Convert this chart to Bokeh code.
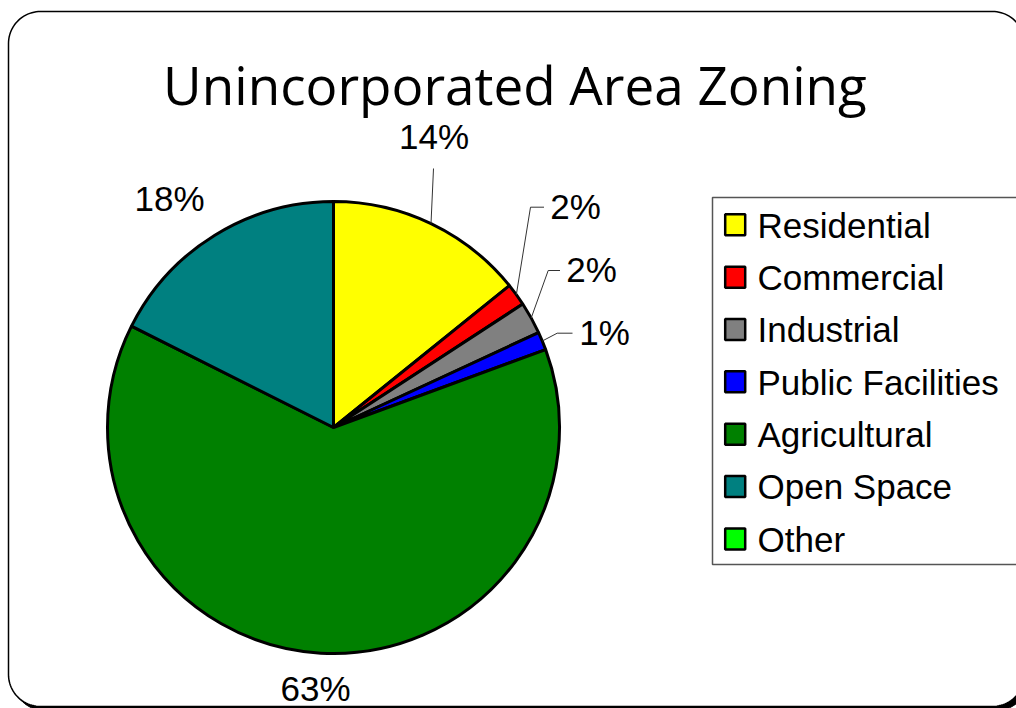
import numpy as np
from bokeh.plotting import figure
from bokeh.models import Range1d, ColumnDataSource
from bokeh.core.properties import value
from bokeh.embed import file_html
from bokeh.resources import INLINE

# ---------------- data ----------------
TITLE = "Unincorporated Area Zoning"
CATEGORIES = ["Residential", "Commercial", "Industrial", "Public Facilities",
              "Agricultural", "Open Space", "Other"]
SHARES = [14.2, 1.6, 2.3, 1.3, 63.0, 17.6, 0.0]
PCT_LABELS = ["14%", "2%", "2%", "1%", "63%", "18%", ""]
COLORS = ["#FFFF00", "#FF0000", "#808080", "#0000FF", "#008000", "#008080", "#00FF00"]

# ---------------- layout (page pixel coordinates) ----------------
W, H = 1016, 708
OFF_X, OFF_Y = 0, 0


def X(px):
    return px - OFF_X


def Y(py):
    return OFF_Y + H - py


CX, CY, R = 333, 427, 226
# label centre x / vertical middle y, per category index
LABEL_POS = {0: (433.5, 136.3), 1: (575, 206), 2: (591, 269.2), 3: (604, 331.5),
             4: (315, 688.3), 5: (169, 198.3)}
# leader polylines (after the rim point)
LEADERS = {0: [(433, 168)],
           1: [(530, 206.7), (543.5, 206.7)],
           2: [(547.7, 270), (559.5, 270)],
           3: [(556.7, 332.7), (572, 332.7)]}

FONT = "Liberation Sans"

p = figure(width=W, height=H, x_range=Range1d(0, W), y_range=Range1d(0, H),
           output_backend="svg", toolbar_location=None, min_border=0)
p.axis.visible = False
p.grid.visible = False
p.outline_line_color = None
p.background_fill_color = "white"
p.border_fill_color = "white"


def rounded_rect(x0, y0, x1, y1, r, n=24):
    xs, ys = [], []
    corners = [(x1 - r, y0 + r, -90, 0), (x1 - r, y1 - r, 0, 90),
               (x0 + r, y1 - r, 90, 180), (x0 + r, y0 + r, 180, 270)]
    for cx, cy, a0, a1 in corners:
        for a in np.linspace(np.radians(a0), np.radians(a1), n):
            xs.append(X(cx + r * np.cos(a)))
            ys.append(Y(cy + r * np.sin(a)))
    return xs, ys


# frame with shadow
sx, sy = rounded_rect(12, 15, 1028, 710, 32)
p.patch(sx, sy, fill_color="black", line_color="black")
fx, fy = rounded_rect(8, 11, 1024, 706, 32)
p.patch(fx, fy, fill_color="white", line_color="black", line_width=1.5)

# pie
shares = np.array(SHARES, dtype=float)
frac = shares / shares.sum()
cum = np.concatenate([[0.0], np.cumsum(frac)])
start = np.pi / 2 - 2 * np.pi * cum[:-1]
end = np.pi / 2 - 2 * np.pi * cum[1:]
mask = shares > 0
src = ColumnDataSource(dict(
    start=start[mask], end=end[mask],
    color=[c for c, m in zip(COLORS, mask) if m]))
p.wedge(x=X(CX), y=Y(CY), radius=R, start_angle="start", end_angle="end",
        direction="clock", fill_color="color", line_color="black",
        line_width=3, source=src)

# leaders
mid = np.pi / 2 - 2 * np.pi * (cum[:-1] + cum[1:]) / 2
lx, ly = [], []
for i, pts in LEADERS.items():
    rx = X(CX) + R * np.cos(mid[i])
    ry = Y(CY) + R * np.sin(mid[i])
    lx.append([rx] + [X(a) for a, b in pts])
    ly.append([ry] + [Y(b) for a, b in pts])
p.multi_line(lx, ly, line_color="#333333", line_width=1)

# percentage labels
idx = [i for i in LABEL_POS]
p.text(x=[X(LABEL_POS[i][0]) for i in idx], y=[Y(LABEL_POS[i][1]) for i in idx],
       text=[PCT_LABELS[i] for i in idx], text_font=value(FONT),
       text_font_size="35px", text_align="center", text_baseline="middle",
       text_color="black")

# title
p.text(x=[X(514.5)], y=[Y(84)], text=[TITLE], text_font=value("Open Sans"),
       text_font_size="53px", text_align="center", text_baseline="middle",
       text_color="black")

# legend
p.quad(left=[X(712)], right=[X(1022)], top=[Y(197)], bottom=[Y(564)],
       fill_color="white", line_color="#555555", line_width=1.5)
pitch = 52.35
n = len(CATEGORIES)
p.rect(x=[X(734.7)] * n, y=[Y(224.3 + i * pitch) for i in range(n)],
       width=20, height=21, fill_color=COLORS, line_color="black", line_width=2.5)
p.text(x=[X(757)] * n, y=[Y(224.7 + i * pitch) for i in range(n)],
       text=CATEGORIES, text_font=value(FONT), text_font_size="35px",
       text_align="left", text_baseline="middle", text_color="black")

open("out.html", "w").write(file_html(p, INLINE))
